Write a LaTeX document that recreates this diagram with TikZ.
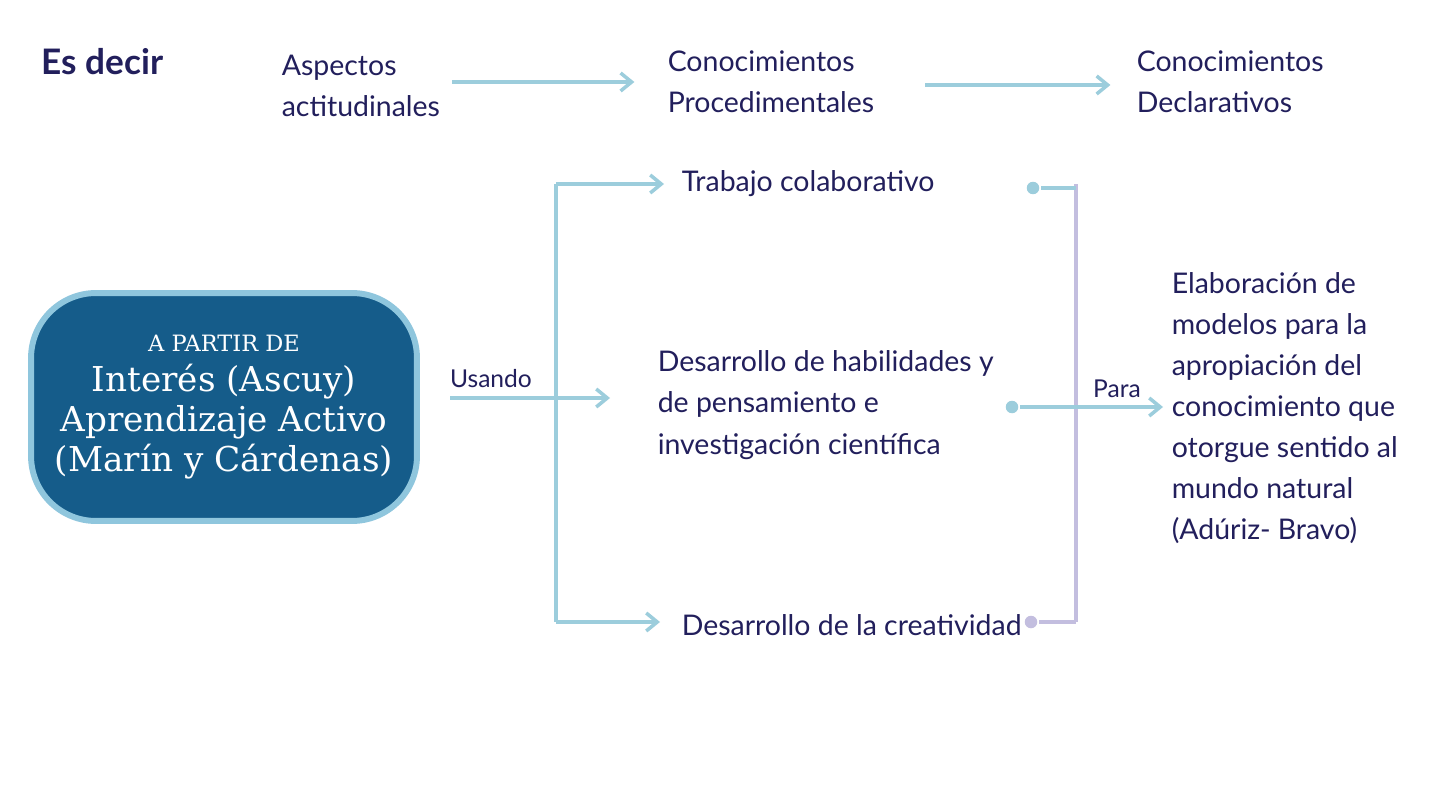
\documentclass[tikz,border=0pt]{standalone}
\usepackage{fontspec}
\setmainfont{Lato}
\newfontfamily\slabfont{DejaVu Serif}
\usetikzlibrary{arrows.meta,positioning}
\definecolor{tinta}{HTML}{221F5C}
\definecolor{flecha}{HTML}{9CCDDC}
\definecolor{lila}{HTML}{C3BEDF}
\definecolor{caja}{HTML}{155C8A}
\definecolor{borde}{HTML}{8FC6DD}

\begin{document}
\begin{tikzpicture}[x=0.02cm,y=-0.02cm,line width=2pt,>={Straight Barb[length=2.2mm,width=3.6mm]},
  texto/.style={text=tinta,font=\fontsize{16.2}{23.4}\selectfont,anchor=west,align=left,inner sep=0pt},
  rotulo/.style={text=tinta,font=\fontsize{14}{16}\selectfont,inner sep=0pt},
  flujo/.style={draw=flecha,line width=2pt},
  tramo/.style={draw=lila,line width=2pt},
  punto/.style={circle,fill=#1,inner sep=0pt,minimum size=0.25cm}]
  \useasboundingbox[fill=white] (0,0) rectangle (1440,811);
  % fila de arriba
  \node[text=tinta,font=\bfseries\fontsize{20}{24}\selectfont,anchor=west,inner sep=0pt] (esdecir) at (40,62) {Es decir};
  \node[texto] (asp) at (280,86) {Aspectos\\actitudinales};
  \node[texto] (proc) at (666,82) {Conocimientos\\Procedimentales};
  \node[texto] (decl) at (1135,82) {Conocimientos\\Declarativos};
  \draw[flujo,->,shorten <=6pt,shorten >=18pt] (asp.east |- proc) -- (proc.west);
  \draw[flujo,->,shorten <=28pt,shorten >=14pt] ([yshift=-0.06cm]proc.east) -- ([yshift=-0.06cm]decl.west);
  % caja de partida
  \node[draw=borde,line width=3.4pt,fill=caja,rounded corners=1.3cm,minimum width=7.72cm,minimum height=4.56cm,
        text=white,align=center,font=\slabfont\fontsize{19.5}{22.7}\selectfont] (origen) at (224,407)
        {{\fontsize{12.8}{17.5}\selectfont A PARTIR DE}\\Interés (Ascuy)\\Aprendizaje Activo\\(Marín y Cárdenas)};
  % medios
  \node[texto] (trab) at (680,184) {Trabajo colaborativo};
  \node[texto] (hab) at (656,405) {Desarrollo de habilidades y\\de pensamiento e\\investigación científica};
  \node[texto] (crea) at (680,625) {Desarrollo de la creatividad};
  \node[texto,align=left] (fin) at (1170,408) {Elaboración de\\modelos para la\\apropiación del\\conocimiento que\\otorgue sentido al\\mundo natural\\(Adúriz- Bravo)};
  % corchete izquierdo
  \coordinate (usa) at (450,398);
  \coordinate (nudo) at (556,398);
  \coordinate (arr) at (556,184);
  \coordinate (aba) at (556,622);
  \draw[flujo] (arr) -- (aba);
  \draw[flujo,->] (usa) -- (610,398);
  \draw[flujo,->,shorten >=0.32cm] (arr) -- (arr -| trab.west);
  \draw[flujo,->,shorten >=0.4cm] (aba) -- (aba -| crea.west);
  \node[rotulo,anchor=south] (usando) at (491,389) {Usando};
  % corchete derecho
  \coordinate (cima) at (1076,184);
  \coordinate (base) at (1076,622);
  \node[punto=flecha] (p1) at (1033,188) {};
  \node[punto=flecha] (p2) at (1012,407) {};
  \node[punto=lila] (p3) at (1031,622) {};
  \draw[tramo] (cima) -- (base);
  \draw[flujo] (p1) -- (p1 -| cima);
  \draw[tramo] (p3) -- (base);
  \draw[flujo,->,shorten >=0.14cm] (p2) -- (p2 -| fin.west);
  \node[rotulo,anchor=south] (para) at (1117,399) {Para};
\end{tikzpicture}
\end{document}
